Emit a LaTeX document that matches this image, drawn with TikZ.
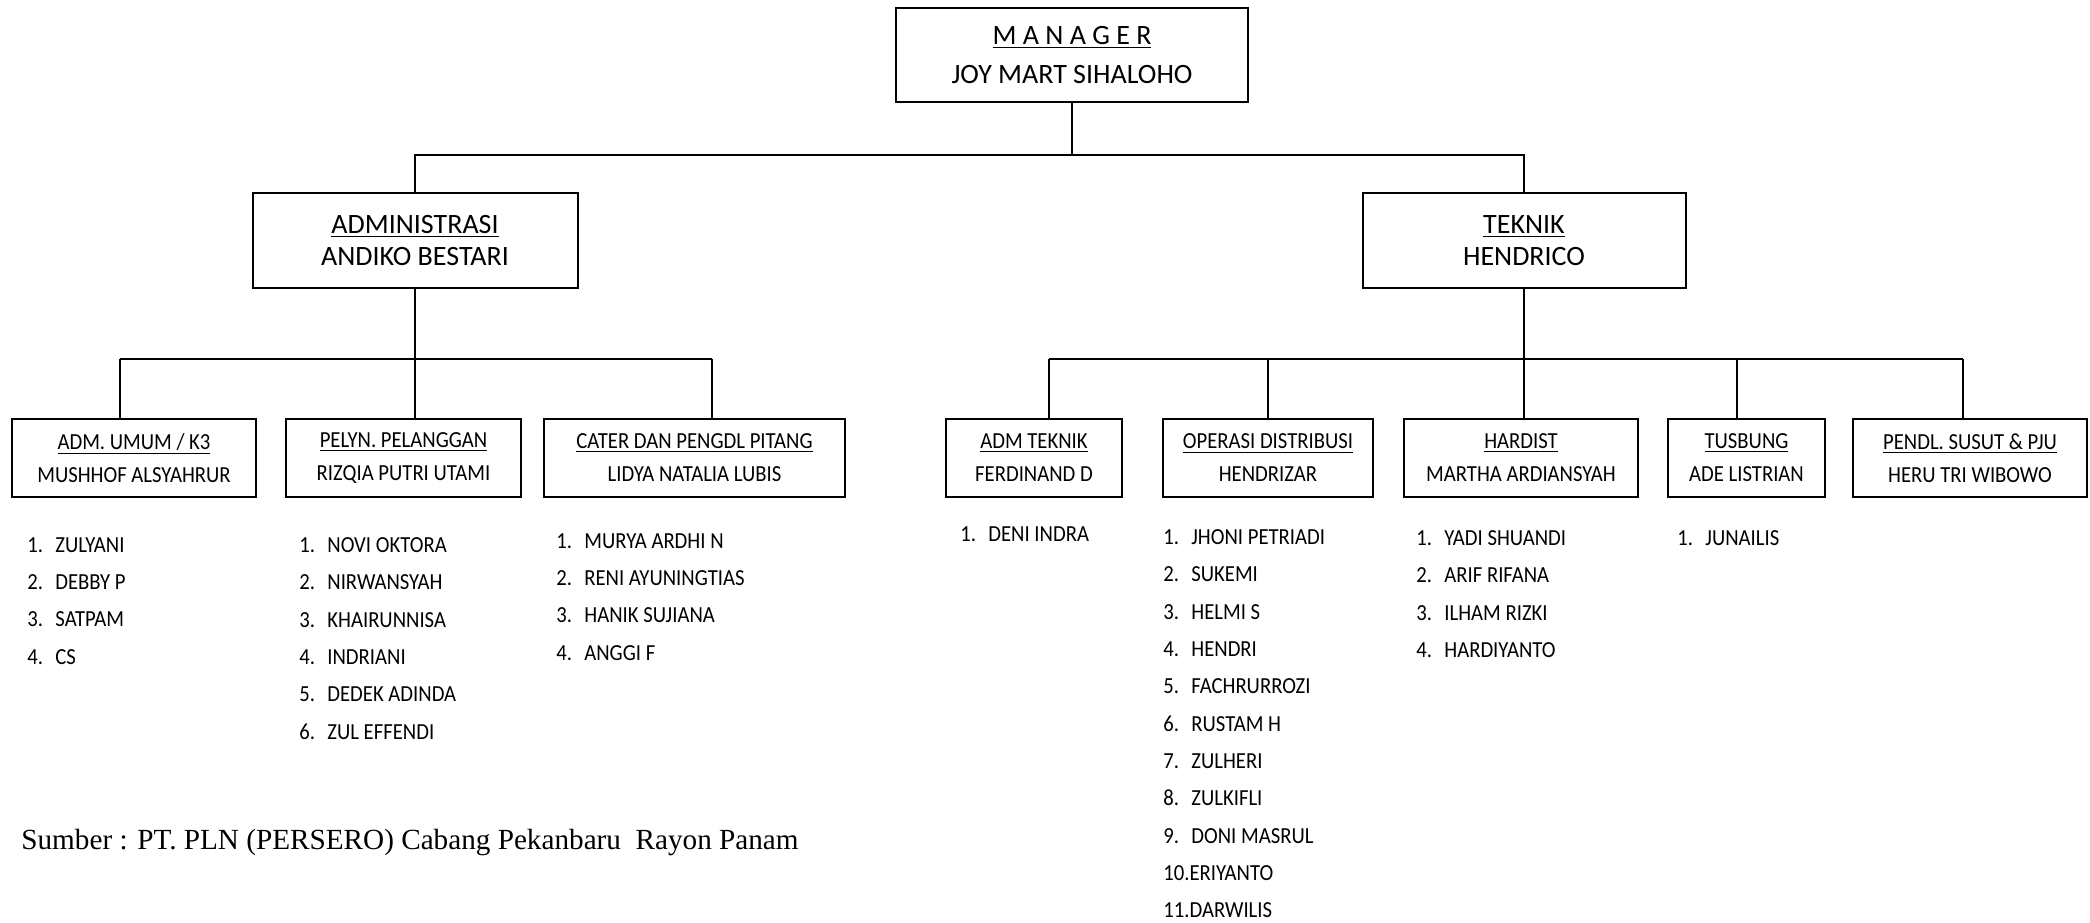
\documentclass[tikz,border=0pt]{standalone}
\usepackage{fontspec}
\setmainfont{Carlito}
\newfontfamily\narrowfont{Carlito}[FakeStretch=0.9]
\newfontfamily\sourcefont{Liberation Serif}
\newcommand\stafitem[2]{\makebox[14pt][l]{#1.}#2}
\begin{document}
\begin{tikzpicture}[x=0.5pt,y=-0.5pt,
  every node/.style={inner sep=0pt},
  topbox/.style={draw, line width=1pt, align=center},
  unitbox/.style={draw, line width=1pt, minimum height=39pt, align=center,
    font=\narrowfont\fontsize{11.5}{16.5}\selectfont},
  staff/.style={anchor=north west, align=left,
    font=\narrowfont\fontsize{11.5}{18.67}\selectfont},
  link/.style={line width=1pt}]
  \useasboundingbox (0,0) rectangle (2090,922);

  % manager and the two sections
  \node[topbox, minimum width=176pt, minimum height=47pt,
        font=\fontsize{14}{19.5}\selectfont] (mgr) at (1072,55)
        {\underline{M A N A G E R}\\JOY MART SIHALOHO};
  \node[topbox, minimum width=162.5pt, minimum height=47.5pt,
        font=\fontsize{14}{16}\selectfont] (adm) at (415,240.5)
        {\underline{ADMINISTRASI}\\ANDIKO BESTARI};
  \node[topbox, minimum width=161.5pt, minimum height=47.5pt,
        font=\fontsize{14}{16}\selectfont] (tek) at (1524,240.5)
        {\underline{TEKNIK}\\HENDRICO};

  % units
  \node[unitbox, minimum width=122pt] (umum) at (134,458)
        {\underline{ADM. UMUM / K3}\\MUSHHOF ALSYAHRUR};
  \node[unitbox, minimum width=117.5pt] (pelyn) at (403.5,458)
        {\underline{PELYN. PELANGGAN}\\RIZQIA PUTRI UTAMI};
  \node[unitbox, minimum width=150.5pt] (cater) at (694.5,458)
        {\underline{CATER DAN PENGDL PITANG}\\LIDYA NATALIA LUBIS};
  \node[unitbox, minimum width=88pt] (admtek) at (1034,458)
        {\underline{ADM TEKNIK}\\FERDINAND D};
  \node[unitbox, minimum width=105pt] (opdis) at (1268,458)
        {\underline{OPERASI DISTRIBUSI}\\HENDRIZAR};
  \node[unitbox, minimum width=117pt] (hardist) at (1521,458)
        {\underline{HARDIST}\\MARTHA ARDIANSYAH};
  \node[unitbox, minimum width=78.5pt] (tusbung) at (1746.5,458)
        {\underline{TUSBUNG}\\ADE LISTRIAN};
  \node[unitbox, minimum width=117pt] (pendl) at (1970,458)
        {\underline{PENDL. SUSUT \& PJU}\\HERU TRI WIBOWO};

  % connectors
  \coordinate (bar0) at (0,155);
  \coordinate (bar1) at (0,359);
  \coordinate (d1) at (120,359);
  \coordinate (d2) at (415,359);
  \coordinate (d3) at (712,359);
  \coordinate (e1) at (1049,359);
  \coordinate (e2) at (1268,359);
  \coordinate (e3) at (1524,359);
  \coordinate (e4) at (1737,359);
  \coordinate (e5) at (1963,359);

  \draw[link] (mgr.south) -- (mgr.south |- bar0);
  \draw[link] (adm.north) -- (adm.north |- bar0) -- (tek.north |- bar0) -- (tek.north);
  \draw[link] (adm.south) -- (adm.south |- bar1);
  \draw[link] (tek.south) -- (tek.south |- bar1);
  \draw[link] (d1) -- (d3);
  \draw[link] (e1) -- (e5);
  \foreach \d/\b in {d1/umum, d2/pelyn, d3/cater, e1/admtek, e2/opdis,
                     e3/hardist, e4/tusbung, e5/pendl}
    \draw[link] (\d) -- (\d |- \b.north);

  % staff lists
  \node[staff] (listumum) at (27,537)
        {\stafitem{1}{ZULYANI}\\\stafitem{2}{DEBBY P}\\
         \stafitem{3}{SATPAM}\\\stafitem{4}{CS}};
  \node[staff] (listpelyn) at (299,537)
        {\stafitem{1}{NOVI OKTORA}\\\stafitem{2}{NIRWANSYAH}\\
         \stafitem{3}{KHAIRUNNISA}\\\stafitem{4}{INDRIANI}\\
         \stafitem{5}{DEDEK ADINDA}\\\stafitem{6}{ZUL EFFENDI}};
  \node[staff] (listcater) at (556,533)
        {\stafitem{1}{MURYA ARDHI N}\\\stafitem{2}{RENI AYUNINGTIAS}\\
         \stafitem{3}{HANIK SUJIANA}\\\stafitem{4}{ANGGI F}};
  \node[staff] (listadmtek) at (960,526)
        {\stafitem{1}{DENI INDRA}};
  \node[staff] (listopdis) at (1163,529)
        {\stafitem{1}{JHONI PETRIADI}\\\stafitem{2}{SUKEMI}\\
         \stafitem{3}{HELMI S}\\\stafitem{4}{HENDRI}\\
         \stafitem{5}{FACHRURROZI}\\\stafitem{6}{RUSTAM H}\\
         \stafitem{7}{ZULHERI}\\\stafitem{8}{ZULKIFLI}\\
         \stafitem{9}{DONI MASRUL}\\10.ERIYANTO\\11.DARWILIS};
  \node[staff] (listhardist) at (1416,530)
        {\stafitem{1}{YADI SHUANDI}\\\stafitem{2}{ARIF RIFANA}\\
         \stafitem{3}{ILHAM RIZKI}\\\stafitem{4}{HARDIYANTO}};
  \node[staff] (listtusbung) at (1677,530)
        {\stafitem{1}{JUNAILIS}};

  % source
  \node[anchor=west, font=\sourcefont\fontsize{14.6}{18}\selectfont] (source) at (21,843)
        {Sumber : PT. PLN (PERSERO) Cabang Pekanbaru\ \ Rayon Panam};
\end{tikzpicture}
\end{document}
